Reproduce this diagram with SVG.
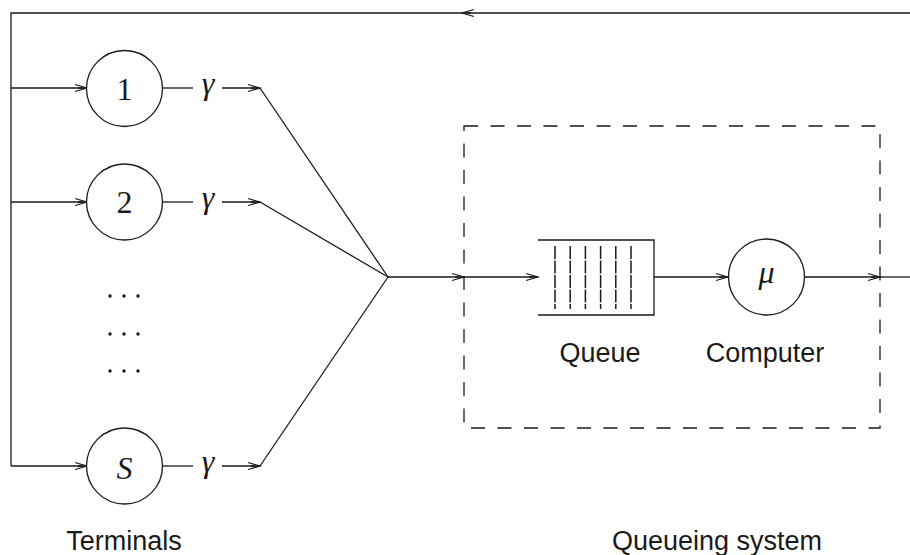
<svg xmlns="http://www.w3.org/2000/svg" width="910" height="555" viewBox="0 0 910 555">
<style>
.ln{fill:none;stroke:#1a1a1a;stroke-width:1.3}
.arr{marker-end:url(#ah)}
.node{fill:#fff;stroke:#1a1a1a;stroke-width:1.3}
.num{font-family:"Liberation Serif","DejaVu Serif",serif;font-size:32px;fill:#1a1a1a;text-anchor:middle}
.it{font-style:italic}
.lbl{font-family:"Liberation Sans","DejaVu Sans",sans-serif;font-size:27px;fill:#1a1a1a;text-anchor:middle}
.dash{fill:none;stroke:#1a1a1a;stroke-width:1.3;stroke-dasharray:14 12.5}
.qv{stroke:#1a1a1a;stroke-width:1.5;stroke-dasharray:13 1.5}
.dot{fill:#1a1a1a}
</style>
<defs>
<marker id="ah" markerUnits="userSpaceOnUse" markerWidth="14" markerHeight="10" refX="12" refY="4" orient="auto" overflow="visible">
<path d="M0,0.5 L12,4 L0,7.5" fill="none" stroke="#1a1a1a" stroke-width="1.2"/>
<path d="M3,3 L12,4 L3,5 Z" fill="#1a1a1a"/>
</marker>
</defs>
<g id="connectors">
<path class="ln arr" d="M910,13 H462"/>
<path class="ln" d="M462,13 H11 V466"/>
<path class="ln arr" d="M11,88 H87"/>
<path class="ln arr" d="M11,202 H87"/>
<path class="ln arr" d="M11,466 H87"/>
<path class="ln" d="M162,88 H193"/>
<path class="ln arr" d="M222,88 H260"/>
<path class="ln" d="M162,202 H193"/>
<path class="ln arr" d="M222,202 H260"/>
<path class="ln" d="M162,466 H193"/>
<path class="ln arr" d="M222,466 H260"/>
<path class="ln" d="M260,88 L388,277"/>
<path class="ln" d="M260,202 L388,277"/>
<path class="ln" d="M260,466 L388,277"/>
<path class="ln arr" d="M388,277 H464"/>
<path class="ln arr" d="M464,277 H538"/>
<path class="ln arr" d="M654,277 H728"/>
<path class="ln arr" d="M805,277 H880"/>
<path class="ln" d="M880,277 H910"/>
<text class="num it" x="208" y="94">γ</text>
<text class="num it" x="208" y="208">γ</text>
<text class="num it" x="208" y="472">γ</text>
</g>
<g id="system">
<rect class="dash" x="464" y="126" width="416" height="302"/>
<text class="lbl" x="717" y="550">Queueing system</text>
</g>
<g id="terminal1">
<circle class="node" cx="124.5" cy="88.5" r="38"/>
<text class="num" x="124.5" y="99.5">1</text>
</g>
<g id="terminal2">
<circle class="node" cx="124.5" cy="202" r="38"/>
<text class="num" x="124.5" y="213">2</text>
</g>
<g id="dots">
<circle class="dot" cx="110" cy="296" r="1.7"/><circle class="dot" cx="124" cy="296" r="1.7"/><circle class="dot" cx="138" cy="296" r="1.7"/>
<circle class="dot" cx="110" cy="334" r="1.7"/><circle class="dot" cx="124" cy="334" r="1.7"/><circle class="dot" cx="138" cy="334" r="1.7"/>
<circle class="dot" cx="110" cy="371" r="1.7"/><circle class="dot" cx="124" cy="371" r="1.7"/><circle class="dot" cx="138" cy="371" r="1.7"/>
</g>
<g id="terminalS">
<circle class="node" cx="124.5" cy="466" r="38"/>
<text class="num it" x="124.5" y="478.5">S</text>
</g>
<g id="terminals-label">
<text class="lbl" x="124" y="550">Terminals</text>
</g>
<g id="queue">
<path class="ln" d="M538,240 H654 V315 H538"/>
<line class="qv" x1="555" y1="246" x2="555" y2="309"/>
<line class="qv" x1="570.2" y1="246" x2="570.2" y2="309"/>
<line class="qv" x1="585.4" y1="246" x2="585.4" y2="309"/>
<line class="qv" x1="600.6" y1="246" x2="600.6" y2="309"/>
<line class="qv" x1="615.8" y1="246" x2="615.8" y2="309"/>
<line class="qv" x1="631" y1="246" x2="631" y2="309"/>
<text class="lbl" x="600" y="362">Queue</text>
</g>
<g id="computer">
<circle class="node" cx="766.5" cy="277" r="38"/>
<text class="num it" x="766.5" y="283">μ</text>
<text class="lbl" x="765" y="362">Computer</text>
</g>
</svg>
